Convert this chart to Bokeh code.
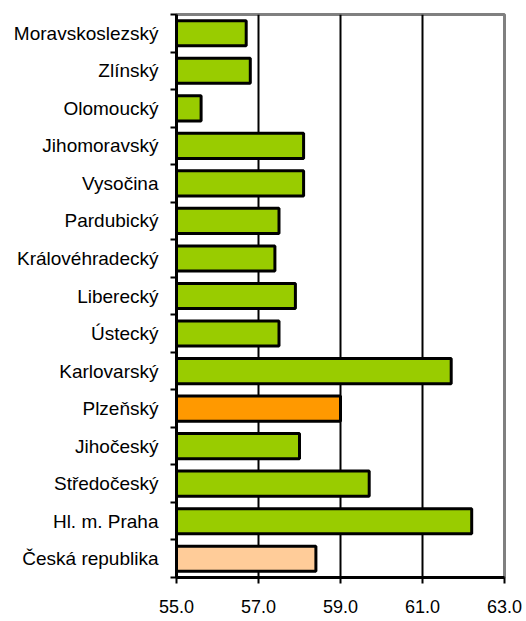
from bokeh.plotting import figure
from bokeh.models import Range1d, FixedTicker, NumeralTickFormatter
from bokeh.embed import file_html
from bokeh.resources import INLINE

regions = ["Moravskoslezský", "Zlínský", "Olomoucký", "Jihomoravský", "Vysočina",
           "Pardubický", "Královéhradecký", "Liberecký", "Ústecký", "Karlovarský",
           "Plzeňský", "Jihočeský", "Středočeský", "Hl. m. Praha", "Česká republika"]
values = [56.7, 56.8, 55.6, 58.1, 58.1, 57.5, 57.4, 57.9, 57.5, 61.7,
          59.0, 58.0, 59.7, 62.2, 58.4]
colors = ["#99CC00"] * 10 + ["#FF9900"] + ["#99CC00"] * 3 + ["#FFCC99"]
x_ticks = [55, 57, 59, 61, 63]
x_min, x_max = 55, 63

n = len(regions)
ys = [n - 0.5 - i for i in range(n)]

p = figure(width=524, height=620, output_backend="svg", toolbar_location=None,
           x_range=Range1d(x_min, x_max), y_range=Range1d(0, n),
           min_border_left=176, min_border_right=20, min_border_top=14, min_border_bottom=43)

p.hbar(y=ys, left=x_min, right=values, height=0.67, fill_color=colors,
       line_color="black", line_width=3)

p.outline_line_color = "#808080"
p.outline_line_width = 3
p.background_fill_color = "white"
p.border_fill_color = "white"

# x axis
p.xaxis.ticker = FixedTicker(ticks=x_ticks)
p.xaxis.formatter = NumeralTickFormatter(format="0.0")
p.xaxis.axis_line_color = "black"
p.xaxis.axis_line_width = 3
p.xaxis.major_tick_line_width = 2
p.xaxis.major_tick_out = 6
p.xaxis.major_tick_in = 0
p.xaxis.minor_tick_line_color = None
p.xaxis.major_label_text_font = "Liberation Sans"
p.xaxis.major_label_text_font_size = "18px"
p.xaxis.major_label_text_color = "black"
p.xaxis.major_label_standoff = 16

# y axis
p.yaxis.ticker = FixedTicker(ticks=ys, minor_ticks=list(range(n + 1)))
p.yaxis.major_label_overrides = {y: r for y, r in zip(ys, regions)}
p.yaxis.axis_line_color = "black"
p.yaxis.axis_line_width = 3
p.yaxis.major_tick_line_color = None
p.yaxis.major_tick_out = 0
p.yaxis.major_tick_in = 0
p.yaxis.minor_tick_line_color = "black"
p.yaxis.minor_tick_line_width = 2
p.yaxis.minor_tick_out = 6
p.yaxis.minor_tick_in = 0
p.yaxis.major_label_text_font = "Liberation Sans"
p.yaxis.major_label_text_font_size = "19px"
p.yaxis.major_label_text_color = "black"
p.yaxis.major_label_standoff = 12

# grid
p.xgrid.ticker = FixedTicker(ticks=x_ticks[1:-1])
p.xgrid.grid_line_color = "black"
p.xgrid.grid_line_width = 2
p.ygrid.grid_line_color = None

open("out.html", "w").write(file_html(p, INLINE))
